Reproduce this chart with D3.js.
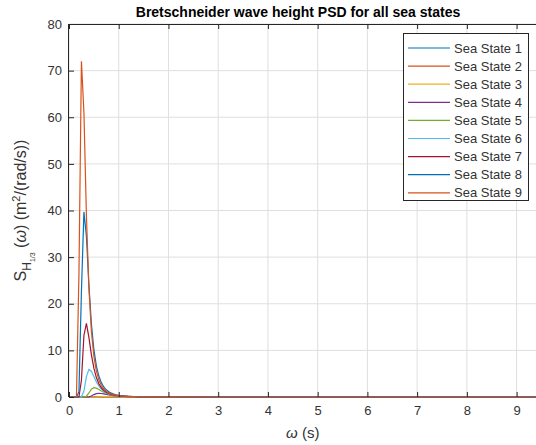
<!DOCTYPE html>
<html lang="en">
<head>
<meta charset="utf-8">
<title>Bretschneider wave height PSD</title>
<script src="https://cdn.jsdelivr.net/npm/d3@7"></script>
<style>
  body { margin: 0; background: #ffffff; }
  svg { font-family: "Liberation Sans", Arial, sans-serif; }
  .tick text { fill: #333333; font-size: 13px; }
  .tick line { stroke: #262626; }
</style>
</head>
<body>
<script>
// frequency grid (rad/s) and the PSD, one array per sea state
var omega = [0, 0.05, 0.1, 0.15, 0.2, 0.25, 0.3, 0.35, 0.4, 0.45, 0.5, 0.55, 0.6, 0.65, 0.7, 0.75,
  0.8, 0.85, 0.9, 0.95, 1.0, 1.05, 1.1, 1.15, 1.2, 1.25, 1.3, 1.35, 1.4, 1.45, 1.5, 2, 3, 4, 6, 8, 9.4];

var ss1 = [0,0,0,0,0,0,0,0,0,0,0,0,0,0,0,0,0,0,0,0,0,0,0,0,0,0,0.0001,0.0001,0.0001,0.00015,0.00015,0.0001,0.00002,0,0,0,0];
var ss2 = [0,0,0,0,0,0,0,0,0,0,0,0,0,0,0.001,0.002,0.004,0.006,0.007,0.008,0.008,0.008,0.007,0.007,0.006,0.0055,0.005,0.0043,0.0038,0.0033,0.0029,0.0008,0.0001,0,0,0,0];
var ss3 = [0,0,0,0,0,0,0,0,0,0,0.001,0.007,0.025,0.049,0.070,0.083,0.087,0.084,0.077,0.068,0.059,0.051,0.043,0.037,0.031,0.026,0.022,0.019,0.016,0.014,0.012,0.003,0.0004,0,0,0,0];
var ss4 = [0,0,0,0,0,0,0,0.001,0.038,0.226,0.52,0.734,0.80,0.755,0.657,0.548,0.446,0.359,0.287,0.230,0.185,0.149,0.121,0.098,0.081,0.067,0.055,0.046,0.039,0.033,0.028,0.007,0.001,0,0,0,0];
var ss5 = [0,0,0,0,0,0,0.003,0.164,0.865,1.66,1.99,1.90,1.61,1.29,1.01,0.778,0.598,0.462,0.359,0.281,0.221,0.176,0.141,0.114,0.093,0.076,0.063,0.052,0.044,0.037,0.031,0.0075,0.001,0,0,0,0];
var ss6 = [0,0,0,0,0,0.03,1.27,4.36,5.92,5.52,4.38,3.25,2.36,1.70,1.24,0.91,0.675,0.508,0.387,0.298,0.233,0.183,0.146,0.117,0.095,0.078,0.064,0.053,0.044,0.037,0.031,0.0075,0.001,0,0,0,0];
var ss7 = [0,0,0,0,0.02,3.59,13.2,15.8,12.8,9.09,6.17,4.17,2.85,1.98,1.40,1.01,0.74,0.55,0.416,0.319,0.248,0.195,0.155,0.124,0.100,0.082,0.067,0.056,0.047,0.039,0.033,0.008,0.001,0,0,0,0];
var ss8 = [0,0,0,0,1.15,22.7,39.7,34.5,24.1,15.7,10.2,6.69,4.49,3.08,2.16,1.55,1.13,0.84,0.63,0.48,0.376,0.295,0.234,0.188,0.152,0.124,0.102,0.085,0.071,0.059,0.050,0.012,0.002,0,0,0,0];
var ss9 = [0,0,0,0.05,26.4,72.0,61.0,39.0,23.4,14.1,8.76,5.60,3.69,2.50,1.74,1.24,0.90,0.67,0.50,0.385,0.298,0.234,0.186,0.149,0.120,0.098,0.081,0.067,0.056,0.047,0.040,0.009,0.001,0,0,0,0];

var names = ["Sea State 1","Sea State 2","Sea State 3","Sea State 4","Sea State 5",
             "Sea State 6","Sea State 7","Sea State 8","Sea State 9"];
var series = [ss1, ss2, ss3, ss4, ss5, ss6, ss7, ss8, ss9];
var colors = ["#0072BD","#D95319","#EDB120","#7E2F8E","#77AC30","#4DBEEE","#A2142F","#0072BD","#D95319"];

var xTicks = [0,1,2,3,4,5,6,7,8,9];
var yTicks = [0,10,20,30,40,50,60,70,80];

var w = 536, h = 445;
var pL = 69, pR = 536, pT = 24, pB = 397;

var svg = d3.select("body").append("svg")
  .attr("width", w).attr("height", h);

var x = d3.scaleLinear().domain([0, 9.39]).range([pL, pR]);
var y = d3.scaleLinear().domain([0, 80]).range([pB, pT]);

// grid
svg.append("g").selectAll("line").data(xTicks).enter().append("line")
  .attr("x1", function(d){ return x(d); }).attr("x2", function(d){ return x(d); })
  .attr("y1", pT).attr("y2", pB)
  .attr("stroke", "#dfdfdf").attr("stroke-width", 1);
svg.append("g").selectAll("line").data(yTicks).enter().append("line")
  .attr("x1", pL).attr("x2", pR)
  .attr("y1", function(d){ return y(d); }).attr("y2", function(d){ return y(d); })
  .attr("stroke", "#dfdfdf").attr("stroke-width", 1);

// curves
svg.append("clipPath").attr("id", "clip").append("rect")
  .attr("x", pL).attr("y", pT).attr("width", pR - pL).attr("height", pB - pT + 1);

var line = d3.line()
  .x(function(d, i){ return x(omega[i]); })
  .y(function(d){ return y(d); });

svg.append("g").attr("clip-path", "url(#clip)")
  .selectAll("path").data(series).enter().append("path")
  .attr("d", line)
  .attr("fill", "none")
  .attr("stroke", function(d, i){ return colors[i]; })
  .attr("stroke-width", 1.2);

// axes, ticks pointing in like matlab
var xAxis = d3.axisBottom(x).tickValues(xTicks).tickSize(-5).tickPadding(9);
var yAxis = d3.axisLeft(y).tickValues(yTicks).tickSize(-5).tickPadding(7);

var gx = svg.append("g").attr("transform", "translate(0," + pB + ")").call(xAxis);
gx.select(".domain").remove();
var gy = svg.append("g").attr("transform", "translate(" + pL + ",0)").call(yAxis);
gy.select(".domain").remove();

var gt = svg.append("g").attr("transform", "translate(0," + pT + ")")
  .call(d3.axisTop(x).tickValues(xTicks).tickSize(-5).tickFormat(""));
gt.select(".domain").remove();

svg.append("line").attr("x1", pL).attr("x2", pR).attr("y1", pT + 0.5).attr("y2", pT + 0.5)
  .attr("stroke", "#262626");
svg.append("line").attr("x1", pL - 0.5).attr("x2", pL - 0.5).attr("y1", pT).attr("y2", pB)
  .attr("stroke", "#262626");

// title
svg.append("text")
  .attr("x", 298).attr("y", 17)
  .attr("text-anchor", "middle")
  .attr("font-size", "14px").attr("font-weight", "bold")
  .attr("fill", "#000")
  .text("Bretschneider wave height PSD for all sea states");

// x label
var xl = svg.append("text")
  .attr("x", x(4.7)).attr("y", 438)
  .attr("text-anchor", "middle")
  .attr("font-size", "15px").attr("fill", "#333333");
xl.append("tspan").attr("font-style", "italic").text("\u03c9");
xl.append("tspan").text(" (s)");

// y label
var yl = svg.append("text")
  .attr("transform", "translate(26," + ((pT + pB) / 2) + ") rotate(-90)")
  .attr("text-anchor", "middle")
  .attr("font-size", "16px").attr("fill", "#333333");
yl.append("tspan").text("S");
yl.append("tspan").attr("dy", 5).attr("font-size", "12px").text("H");
yl.append("tspan").attr("dy", 4).attr("font-size", "7px").text("1/3");
yl.append("tspan").attr("dy", -9).text("  (");
yl.append("tspan").attr("font-style", "italic").text("\u03c9");
yl.append("tspan").text(") (m");
yl.append("tspan").attr("dy", -6).attr("font-size", "11px").text("2");
yl.append("tspan").attr("dy", 6).text("/(rad/s))");

// legend
var lgX = 403, lgY = 33, lgW = 125, lgH = 167, rowH = 18.1;
var lg = svg.append("g");
lg.append("rect")
  .attr("x", lgX + 0.5).attr("y", lgY + 0.5).attr("width", lgW).attr("height", lgH)
  .attr("fill", "#fff").attr("stroke", "#262626").attr("stroke-width", 1);
var rows = lg.selectAll("g.row").data(names).enter().append("g")
  .attr("transform", function(d, i){ return "translate(" + lgX + "," + (lgY + 15 + i * rowH) + ")"; });
rows.append("line")
  .attr("x1", 5).attr("x2", 47).attr("y1", 0).attr("y2", 0)
  .attr("stroke", function(d, i){ return colors[i]; }).attr("stroke-width", 1.2);
rows.append("text")
  .attr("x", 51).attr("y", 4.5)
  .attr("font-size", "13px").attr("fill", "#333333")
  .text(function(d){ return d; });
</script>
</body>
</html>
